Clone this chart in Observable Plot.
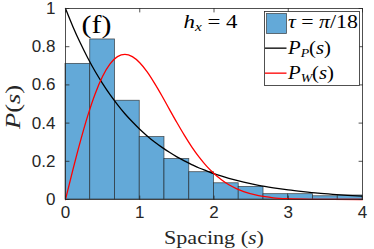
<!DOCTYPE html>
<html><head><meta charset="utf-8">
<script src="https://cdn.jsdelivr.net/npm/d3@7"></script>
<script src="https://cdn.jsdelivr.net/npm/@observablehq/plot@0.6"></script>
<style>body{margin:0;background:#fff} svg{display:block}</style>
</head><body><div id="chart"></div>
<script>
// Histogram bins
const binEdges = [0, 0.333, 0.667, 1, 1.333, 1.667, 2, 2.333, 2.667, 3, 3.333, 3.667, 4];
const binValues = [0.71, 0.838, 0.517, 0.327, 0.212, 0.143, 0.085, 0.066, 0.028, 0.028, 0.017, 0.021];
// Black curve P_P(s)
const sPoisson = [0,0.1,0.2,0.3,0.4,0.5,0.6,0.7,0.8,0.9,1.0,1.1,1.2,1.3,1.4,1.5,1.6,1.7,1.8,1.9,2.0,2.2,2.4,2.6,2.8,3.0,3.2,3.4,3.6,3.8,4.0];
const pPoisson = [1,0.905,0.819,0.741,0.670,0.607,0.549,0.497,0.449,0.407,0.368,0.333,0.301,0.273,0.247,0.223,0.202,0.183,0.165,0.150,0.135,0.111,0.091,0.074,0.061,0.050,0.041,0.033,0.027,0.022,0.018];
// Red curve P_W(s)
const sWigner = [0,0.1,0.2,0.3,0.4,0.5,0.6,0.7,0.8,0.9,1.0,1.1,1.2,1.3,1.4,1.5,1.6,1.7,1.8,1.9,2.0,2.1,2.2,2.3,2.4,2.6,2.8,3.0,3.3,3.6,4.0];
const pWigner = [0,0.156,0.304,0.439,0.554,0.645,0.710,0.748,0.760,0.748,0.716,0.668,0.608,0.542,0.472,0.403,0.337,0.276,0.222,0.175,0.136,0.103,0.077,0.057,0.041,0.020,0.009,0.004,0.001,0.0002,0];
const xTicks = [0, 1, 2, 3, 4];
const xTickLabels = ["0", "1", "2", "3", "4"];
const yTicks = [0, 0.2, 0.4, 0.6, 0.8, 1];
const yTickLabels = ["0", "0.2", "0.4", "0.6", "0.8", "1"];
const legendLabels = ["τ = π/18", "P_P(s)", "P_W(s)"];
const panelLabel = "(f)";
const fieldLabel = "h_x = 4";
const xLabel = "Spacing (s)";
const yLabel = "P(s)";

const bars = binValues.map((v, i) => ({x1: binEdges[i], x2: binEdges[i + 1], y: v}));
const poisson = sPoisson.map((s, i) => ({s, p: pPoisson[i]}));
const wigner = sWigner.map((s, i) => ({s, p: pWigner[i]}));

const barFill = "#63a9d8";
const axisColor = "#262626";
const serif = "Liberation Serif";
const tickShape = {draw(ctx, l) { ctx.moveTo(0, 0); ctx.lineTo(0, -l); }};
const tickOpts = {length: 3.5, anchor: "start", shape: tickShape, stroke: axisColor, strokeWidth: 0.8};

const chart = Plot.plot({
  width: 374, height: 249,
  marginLeft: 65, marginRight: 12, marginTop: 8, marginBottom: 50,
  x: {domain: [0, 4]},
  y: {domain: [0, 1]},
  style: {fontFamily: "Liberation Sans", fontSize: "17px", background: "white", overflow: "visible"},
  marks: [
    Plot.rectY(bars, {x1: "x1", x2: "x2", y: "y", fill: barFill, stroke: "#1a1a1a", strokeOpacity: 0.7, strokeWidth: 0.8}),
    Plot.line(poisson, {x: "s", y: "p", stroke: "#000", strokeWidth: 1.3, curve: "monotone-x"}),
    Plot.line(wigner, {x: "s", y: "p", stroke: "#ff0000", strokeWidth: 1.3, curve: "monotone-x"}),
    Plot.frame({stroke: axisColor, strokeWidth: 0.8}),
    Plot.vector(xTicks, {x: d => d, y: 0, rotate: 0, ...tickOpts}),
    Plot.vector(xTicks, {x: d => d, y: 1, rotate: 180, ...tickOpts}),
    Plot.vector(yTicks, {x: 0, y: d => d, rotate: 90, ...tickOpts}),
    Plot.vector(yTicks, {x: 4, y: d => d, rotate: -90, ...tickOpts}),
    Plot.axisX(xTicks, {tickSize: 0, tickPadding: 6, label: null, fontSize: 17, fill: axisColor,
      tickFormat: d => xTickLabels[xTicks.indexOf(d)]}),
    Plot.axisY(yTicks, {tickSize: 0, tickPadding: 10, label: null, fontSize: 17, fill: axisColor,
      tickFormat: d => yTickLabels[yTicks.indexOf(d)]}),
    // legend box
    Plot.frame({fill: "white", stroke: axisColor, strokeWidth: 0.8, insetLeft: 199, insetRight: 3, insetTop: 3, insetBottom: 114}),
    Plot.frame({fill: barFill, stroke: "#1a1a1a", strokeOpacity: 0.7, strokeWidth: 0.8, insetLeft: 201, insetRight: 76, insetTop: 5, insetBottom: 166}),
    Plot.frame({fill: "#000", insetLeft: 199.5, insetRight: 76, insetTop: 39, insetBottom: 150.7}),
    Plot.frame({fill: "#ff0000", insetLeft: 199.5, insetRight: 76, insetTop: 64, insetBottom: 125.7}),
    Plot.text([legendLabels[0]], {frameAnchor: "top-left", dx: 222.5, dy: 19, textAnchor: "start", lineAnchor: "bottom", fontFamily: serif, fontSize: 18, fill: "#000"}),
    Plot.text([legendLabels[1]], {frameAnchor: "top-left", dx: 222.5, dy: 45, textAnchor: "start", lineAnchor: "bottom", fontFamily: serif, fontSize: 18, fill: "#000"}),
    Plot.text([legendLabels[2]], {frameAnchor: "top-left", dx: 222.5, dy: 70, textAnchor: "start", lineAnchor: "bottom", fontFamily: serif, fontSize: 18, fill: "#000"}),
    // annotations
    Plot.text([panelLabel], {frameAnchor: "top-left", dx: 31, dy: 24, textAnchor: "middle", lineAnchor: "bottom", fontFamily: serif, fontSize: 26, fill: "#000"}),
    Plot.text([fieldLabel], {frameAnchor: "top-left", dx: 118, dy: 19, textAnchor: "start", lineAnchor: "bottom", fontFamily: serif, fontSize: 18, fill: "#000"}),
    Plot.text([xLabel], {frameAnchor: "bottom", dx: 0, dy: 44, textAnchor: "middle", lineAnchor: "bottom", fontFamily: serif, fontSize: 18, fill: axisColor}),
    Plot.text([yLabel], {frameAnchor: "left", dx: -52, dy: 3, rotate: -90, textAnchor: "middle", lineAnchor: "middle", fontFamily: serif, fontSize: 20, fill: axisColor})
  ]
});

// Rich text (italics / subscripts) and widths
const it = s => `<tspan font-style="italic">${s}</tspan>`;
const subIt = s => `<tspan font-style="italic" font-size="12" dy="3">${s}</tspan>`;
const rich = {
  "(f)": ["(f)", 30],
  "h_x = 4": [it("h") + subIt("x") + `<tspan dy="-3"> = 4</tspan>`, 54],
  "τ = π/18": [it("τ") + " = " + it("π") + "/18", 70],
  "P_P(s)": [it("P") + subIt("P") + `<tspan dy="-3">(</tspan>` + it("s") + ")", 43],
  "P_W(s)": [it("P") + subIt("W") + `<tspan dy="-3">(</tspan>` + it("s") + ")", 46],
  "Spacing (s)": ["Spacing (" + it("s") + ")", 100],
  "P(s)": [it("P") + "(" + it("s") + ")", 44]
};
chart.querySelectorAll("text").forEach(t => {
  const key = t.textContent;
  if (rich[key]) {
    t.innerHTML = rich[key][0];
    t.setAttribute("textLength", rich[key][1]);
    t.setAttribute("lengthAdjust", "spacingAndGlyphs");
  }
});
document.getElementById("chart").appendChild(chart);
</script>
</body></html>
